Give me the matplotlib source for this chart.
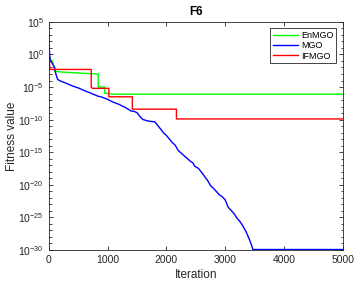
import matplotlib
matplotlib.use('Agg')
import matplotlib.pyplot as plt
from matplotlib.ticker import FixedLocator, NullFormatter
import numpy as np

# (iteration, log10 fitness)
enmgo_it = [0, 30, 60, 100, 300, 600, 840, 840, 950, 950, 1100, 5000]
enmgo_lg = [0.0, -0.8, -1.0, -2.6, -2.75, -2.9, -3.0, -5.0, -5.0, -5.95, -6.1, -6.1]

mgo_it = [0, 10, 20, 30, 45, 60, 80, 100, 110, 120, 150, 200, 300, 400, 500, 600, 700,
          830, 900, 1000, 1050, 1100, 1200, 1300, 1400, 1450, 1500, 1550, 1600, 1700,
          1800, 1820, 1900, 1950, 2000, 2100, 2150, 2200, 2300, 2400, 2450, 2480, 2550,
          2600, 2700, 2750, 2800, 2900, 2950, 3000, 3050, 3100, 3150, 3200, 3250, 3300,
          3350, 3400, 3450, 3470, 4000, 5000]
mgo_lg = [1.2, 0.5, -0.8, -1.0, -1.3, -1.4, -1.8, -2.1, -2.7, -3.1, -3.9, -4.15, -4.5,
          -4.9, -5.2, -5.6, -5.95, -6.45, -6.6, -6.95, -7.2, -7.4, -7.75, -8.2, -8.75,
          -8.8, -9.0, -9.6, -10.05, -10.3, -10.4, -10.6, -11.5, -12.1, -12.5, -13.6,
          -14.0, -14.8, -15.6, -16.4, -16.7, -17.2, -17.6, -18.2, -19.4, -20.2, -20.6,
          -21.6, -21.9, -22.4, -23.5, -24.0, -24.5, -25.2, -25.7, -26.4, -27.2, -28.2,
          -29.4, -30.0, -30.0, -30.0]

ifmgo_it = [0, 5, 15, 720, 720, 740, 1020, 1020, 1420, 1420, 2170, 2170, 5000]
ifmgo_lg = [3.3, 1.0, -2.3, -2.3, -5.0, -5.2, -5.2, -6.5, -6.5, -8.4, -8.4, -9.9, -9.9]

plt.rcParams['font.family'] = ['Liberation Sans', 'DejaVu Sans']
grey = '#262626'

fig = plt.figure(figsize=(3.62, 2.84), dpi=100)
ax = fig.add_axes([0.135, 0.12, 0.812, 0.803])

ax.plot(enmgo_it, 10.0 ** np.array(enmgo_lg), color=(0, 1, 0), lw=1, label='EnMGO')
ax.plot(mgo_it, 10.0 ** np.array(mgo_lg) * 1.15, color=(0, 0, 1), lw=1, label='MGO')
ax.plot(ifmgo_it, 10.0 ** np.array(ifmgo_lg), color=(1, 0, 0), lw=1, label='IFMGO')

ax.set_yscale('log')
ax.set_xlim(0, 5000)
ax.set_ylim(1e-30, 1e5)
ax.set_xticks([0, 1000, 2000, 3000, 4000, 5000])
ax.yaxis.set_major_locator(FixedLocator([10.0 ** k for k in range(-30, 6, 5)]))
ax.yaxis.set_minor_locator(FixedLocator([10.0 ** k for k in range(-30, 6)]))
ax.yaxis.set_minor_formatter(NullFormatter())
ax.tick_params(which='both', direction='in', top=True, right=True, colors=grey,
               labelsize=7.5, width=0.6)
ax.tick_params(which='major', length=3)
ax.tick_params(which='minor', length=1.8)
for s in ax.spines.values():
    s.set_color(grey)
    s.set_linewidth(0.6)

ax.set_xlabel('Iteration', fontsize=8.5, color=grey, labelpad=3)
ax.set_ylabel('Fitness value', fontsize=8.5, color=grey)
ax.yaxis.set_label_coords(-0.105, 0.5)
ax.set_title('F6', fontsize=8.5, fontweight='bold', pad=5)

leg = ax.legend(loc='upper right', fontsize=6.5, fancybox=False, framealpha=1,
                edgecolor=grey, handlelength=2.8, handletextpad=0.4,
                borderaxespad=0.7, labelspacing=0.15, borderpad=0.3)
leg.get_frame().set_linewidth(0.6)

fig.savefig('out.png', dpi=100)
